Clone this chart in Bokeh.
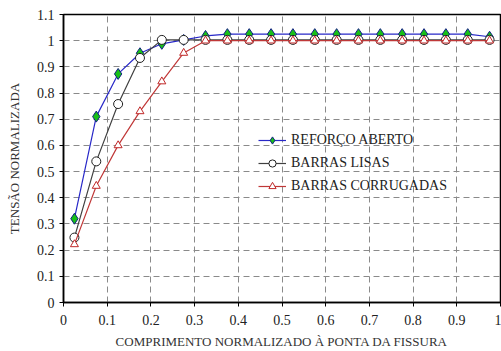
from bokeh.plotting import figure
from bokeh.models import Range1d, FixedTicker, Legend
from bokeh.embed import file_html
from bokeh.resources import INLINE

x = [0.025, 0.075, 0.125, 0.175, 0.225, 0.275, 0.325, 0.375, 0.425, 0.475,
     0.525, 0.575, 0.625, 0.675, 0.725, 0.775, 0.825, 0.875, 0.925, 0.975]
reforco_aberto = [0.32, 0.71, 0.873, 0.952, 0.988, 1.003, 1.018, 1.025, 1.025, 1.025,
                  1.025, 1.025, 1.025, 1.025, 1.025, 1.025, 1.025, 1.025, 1.025, 1.015]
barras_lisas = [0.248, 0.539, 0.758, 0.934, 1.003, 1.003, 1.003, 1.003, 1.003, 1.003,
                1.003, 1.003, 1.003, 1.003, 1.003, 1.003, 1.003, 1.003, 1.003, 1.003]
barras_corrugadas = [0.222, 0.445, 0.60, 0.73, 0.844, 0.953, 1.0, 1.0, 1.0, 1.0,
                     1.0, 1.0, 1.0, 1.0, 1.0, 1.0, 1.0, 1.0, 1.0, 1.0]
x_ticks = [0, 0.1, 0.2, 0.3, 0.4, 0.5, 0.6, 0.7, 0.8, 0.9, 1.0]
y_ticks = [0, 0.1, 0.2, 0.3, 0.4, 0.5, 0.6, 0.7, 0.8, 0.9, 1.0, 1.1]

FONT = "Times New Roman"

p = figure(width=501, height=351, output_backend="svg", toolbar_location=None,
           x_range=Range1d(0, 1), y_range=Range1d(0, 1.1),
           min_border_left=63, min_border_right=1, min_border_top=14, min_border_bottom=48)
p.background_fill_color = "white"
p.border_fill_color = "white"
p.outline_line_color = "black"
p.outline_line_width = 1.5

p.xaxis.ticker = FixedTicker(ticks=x_ticks)
p.yaxis.ticker = FixedTicker(ticks=y_ticks)
p.xaxis.major_label_overrides = {t: ("%g" % t) for t in x_ticks}
p.yaxis.major_label_overrides = {t: ("%g" % t) for t in y_ticks}
for ax in (p.xaxis[0], p.yaxis[0]):
    ax.axis_line_color = "black"
    ax.axis_line_width = 1.5
    ax.major_tick_line_color = "black"
    ax.major_tick_out = 4
    ax.major_tick_in = 0
    ax.minor_tick_line_color = None
    ax.major_label_text_font = FONT
    ax.major_label_text_font_size = "14px"
    ax.major_label_text_color = "#222222"
    ax.axis_label_text_font = FONT
    ax.axis_label_text_font_size = "13px"
    ax.axis_label_text_font_style = "normal"
    ax.axis_label_text_color = "#333333"
p.xaxis.axis_label = "COMPRIMENTO NORMALIZADO À PONTA DA FISSURA"
p.yaxis.axis_label = "TENSÃO NORMALIZADA"
p.xaxis.major_label_standoff = 8
p.yaxis.major_label_standoff = 5
p.xaxis.axis_label_standoff = 6
p.yaxis.axis_label_standoff = 12

for g in (p.xgrid[0], p.ygrid[0]):
    g.grid_line_color = "#8a8a8a"
    g.grid_line_dash = "6 4"
    g.grid_line_width = 1

l1 = p.line(x, reforco_aberto, line_color="#2828c8", line_width=1.2)
s1 = p.scatter(x, reforco_aberto, marker="diamond", size=11, fill_color="#18c018",
               line_color="#102080", line_width=1)
l2 = p.line(x, barras_lisas, line_color="#404040", line_width=1.2)
s2 = p.scatter(x, barras_lisas, marker="circle", size=9, fill_color="white",
               line_color="#202020", line_width=1)
l3 = p.line(x, barras_corrugadas, line_color="#c03838", line_width=1.2)
s3 = p.scatter(x, barras_corrugadas, marker="triangle", size=8, fill_color="white",
               line_color="#c02828", line_width=1)

legend = Legend(items=[("REFORÇO ABERTO", [l1, s1]),
                       ("BARRAS LISAS", [l2, s2]),
                       ("BARRAS CORRUGADAS", [l3, s3])],
                location=(195, 107))
legend.background_fill_alpha = 0
legend.border_line_alpha = 0
legend.margin = 0
legend.padding = 0
legend.spacing = 5
legend.glyph_width = 28
legend.glyph_height = 18
legend.label_standoff = 5
legend.label_text_font = FONT
legend.label_text_font_size = "14px"
legend.label_text_color = "#222222"
p.add_layout(legend)

open("out.html", "w").write(file_html(p, INLINE))
